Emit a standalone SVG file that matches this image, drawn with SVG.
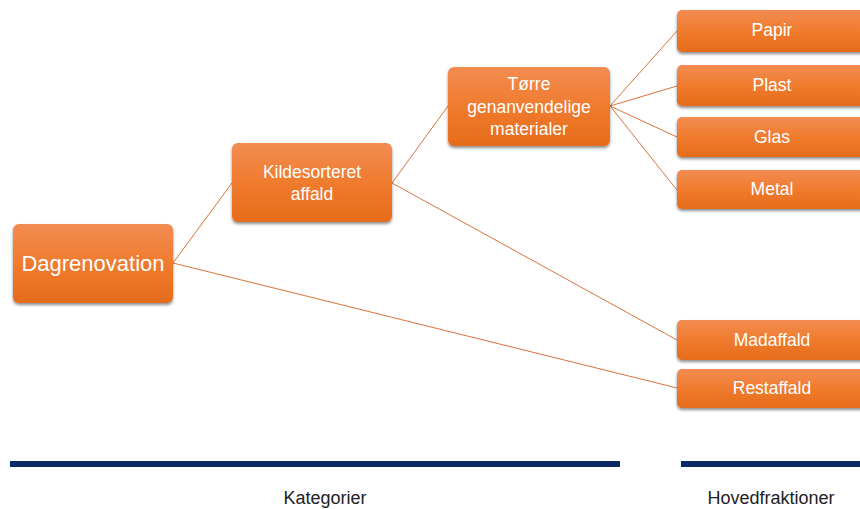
<svg xmlns="http://www.w3.org/2000/svg" width="860" height="509" viewBox="0 0 860 509">
<defs>
<linearGradient id="og" x1="0" y1="0" x2="0" y2="1">
<stop offset="0" stop-color="#F28C52"/>
<stop offset="0.5" stop-color="#F07B2E"/>
<stop offset="1" stop-color="#E56C1A"/>
</linearGradient>
<filter id="sh" x="-10%" y="-10%" width="120%" height="140%">
<feGaussianBlur in="SourceAlpha" stdDeviation="1.5"/>
<feOffset dx="0" dy="2" result="b"/>
<feComponentTransfer><feFuncA type="linear" slope="0.45"/></feComponentTransfer>
<feMerge><feMergeNode/><feMergeNode in="SourceGraphic"/></feMerge>
</filter>
</defs>
<style>
.box{fill:url(#og);filter:url(#sh);}
.t{font-family:"Liberation Sans",Arial,sans-serif;fill:#fff;text-anchor:middle;font-size:17.5px;}
.c{stroke:#D8743A;stroke-width:1;fill:none;}
.lab{font-family:"Liberation Sans",Arial,sans-serif;fill:#222;text-anchor:middle;font-size:18px;}
.bar{stroke:#0B2A63;stroke-width:6;}
</style>
<g id="connectors">
<line class="c" x1="173" y1="263" x2="232" y2="183"/>
<line class="c" x1="173" y1="263" x2="677" y2="388"/>
<line class="c" x1="392" y1="183" x2="448" y2="106"/>
<line class="c" x1="392" y1="183" x2="677" y2="340"/>
<line class="c" x1="610" y1="106" x2="677" y2="31"/>
<line class="c" x1="610" y1="106" x2="677" y2="86"/>
<line class="c" x1="610" y1="106" x2="677" y2="137"/>
<line class="c" x1="610" y1="106" x2="677" y2="190"/>
</g>
<g id="dagrenovation">
<rect class="box" x="13" y="224" width="160" height="79" rx="6"/>
<text class="t" x="93" y="271" style="font-size:22px">Dagrenovation</text>
</g>
<g id="kildesorteret">
<rect class="box" x="232" y="143" width="160" height="79" rx="6"/>
<text class="t" x="312" y="178">Kildesorteret</text>
<text class="t" x="312" y="200">affald</text>
</g>
<g id="toerre">
<rect class="box" x="448" y="67" width="162" height="79" rx="6"/>
<text class="t" x="529" y="90">Tørre</text>
<text class="t" x="529" y="113">genanvendelige</text>
<text class="t" x="529" y="135">materialer</text>
</g>
<g id="papir">
<rect class="box" x="677" y="10" width="192" height="42" rx="5"/>
<text class="t" x="772" y="36">Papir</text>
</g>
<g id="plast">
<rect class="box" x="677" y="65" width="192" height="41" rx="5"/>
<text class="t" x="772" y="91">Plast</text>
</g>
<g id="glas">
<rect class="box" x="677" y="117" width="192" height="40" rx="5"/>
<text class="t" x="772" y="143">Glas</text>
</g>
<g id="metal">
<rect class="box" x="677" y="170" width="192" height="39" rx="5"/>
<text class="t" x="772" y="195">Metal</text>
</g>
<g id="madaffald">
<rect class="box" x="677" y="320" width="192" height="40" rx="5"/>
<text class="t" x="772" y="346">Madaffald</text>
</g>
<g id="restaffald">
<rect class="box" x="677" y="369" width="192" height="39" rx="5"/>
<text class="t" x="772" y="394">Restaffald</text>
</g>
<g id="axis">
<line class="bar" x1="10" y1="464" x2="620" y2="464"/>
<line class="bar" x1="681" y1="464" x2="860" y2="464"/>
<text class="lab" x="325" y="504">Kategorier</text>
<text class="lab" x="771" y="504">Hovedfraktioner</text>
</g>
</svg>
